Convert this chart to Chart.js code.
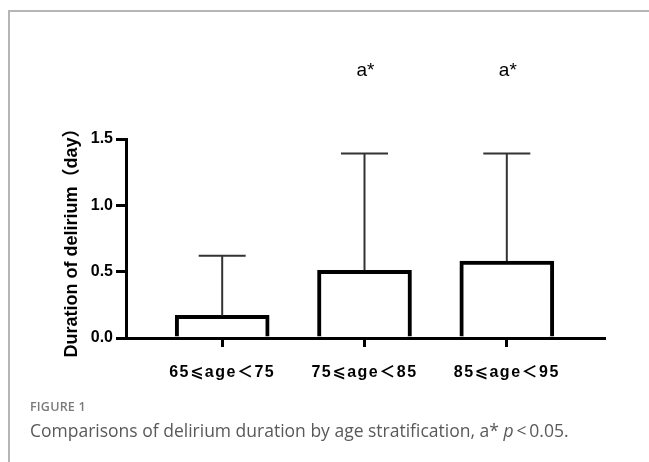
<!DOCTYPE html>
<html>
<head>
<meta charset="utf-8">
<script src="https://cdn.jsdelivr.net/npm/chart.js@4.4.1/dist/chart.umd.min.js"></script>
<style>
  html, body { margin: 0; padding: 0; background: #fff; }
  #wrap { position: relative; width: 649px; height: 462px; overflow: hidden; background: #fff; }
  #frame { position: absolute; left: 8px; top: 10px; width: 700px; height: 500px;
           border-top: 2px solid #b5b5b5; border-left: 2px solid #b5b5b5; }
  #c { position: absolute; left: 0; top: 0; }
  #fig { position: absolute; left: 30px; top: 398px; font-family: "Open Sans", "Noto Sans", sans-serif;
         font-size: 12.5px; font-weight: 600; color: #7a7a7a; letter-spacing: 0.2px; }
  #cap { position: absolute; left: 30px; top: 418px; font-family: "Open Sans", "Noto Sans", sans-serif;
         font-size: 17.5px; color: #595959; font-weight: 400; }
</style>
</head>
<body>
<div id="wrap">
  <div id="frame"></div>
  <canvas id="c" width="649" height="400"></canvas>
  <div id="fig">FIGURE 1</div>
  <div id="cap">Comparisons of delirium duration by age stratification, a* <i>p</i>&thinsp;&lt;&thinsp;0.05.</div>
</div>
<script>
// ---- data ----
const categories = ['65⩽age＜75', '75⩽age＜85', '85⩽age＜95'];
const positions = [1, 2, 3];
const means = [0.17, 0.51, 0.58];
const sdUpper = [0.62, 1.39, 1.39];
const sigLabels = ['', 'a*', 'a*'];
const yTicks = [0, 0.5, 1.0, 1.5];
const yTitle = 'Duration of delirium（day）';

const tickFont = { family: '"Liberation Sans", Arial, "DejaVu Sans", "Noto Sans CJK SC", sans-serif', size: 16, weight: 'bold' };

const errorBarPlugin = {
  id: 'errorBars',
  afterDatasetsDraw(chart) {
    const { ctx, scales: { x, y } } = chart;
    ctx.save();
    ctx.strokeStyle = '#333';
    ctx.lineWidth = 2;
    positions.forEach((p, i) => {
      const px = x.getPixelForValue(p);
      const top = y.getPixelForValue(sdUpper[i]);
      const base = y.getPixelForValue(means[i]);
      const half = 23.5;
      ctx.beginPath();
      ctx.moveTo(px, base);
      ctx.lineTo(px, top);
      ctx.moveTo(px - half, top);
      ctx.lineTo(px + half, top);
      ctx.stroke();
    });
    ctx.fillStyle = '#000';
    ctx.font = '19px "Liberation Sans", Arial, sans-serif';
    ctx.textAlign = 'center';
    ctx.textBaseline = 'middle';
    positions.forEach((p, i) => {
      if (sigLabels[i]) ctx.fillText(sigLabels[i], x.getPixelForValue(p) + 1, 71);
    });
    ctx.restore();
  }
};

function spacedLabels(scale) {
  if (scale._spacedPatched) return;
  scale._spacedPatched = true;
  const orig = scale.drawLabels;
  scale.drawLabels = function (ca) {
    const ctx = this.ctx;
    ctx.save();
    ctx.letterSpacing = '1.5px';
    orig.call(this, ca);
    ctx.restore();
  };
}

new Chart(document.getElementById('c'), {
  type: 'bar',
  data: {
    datasets: [{
      data: positions.map((p, i) => ({ x: p, y: means[i] })),
      backgroundColor: '#fff',
      borderColor: '#000',
      borderWidth: 4,
      borderSkipped: 'bottom',
      barThickness: 94
    }]
  },
  options: {
    responsive: false,
    animation: false,
    devicePixelRatio: 1,
    layout: { padding: { top: 139, right: 45, left: 0, bottom: 0 } },
    plugins: { legend: { display: false }, tooltip: { enabled: false } },
    scales: {
      x: {
        type: 'linear',
        offset: false,
        min: 0.324,
        max: 3.683,
        afterBuildTicks: s => { s.ticks = positions.map(v => ({ value: v })); },
        afterFit: s => { s.height = 62; spacedLabels(s); },
        grid: { display: true, drawOnChartArea: false, drawTicks: true, tickLength: 9, lineWidth: 3, color: '#000', offset: false },
        border: { display: true, width: 3, color: '#000' },
        ticks: {
          color: '#000', font: tickFont, padding: 16,
          maxRotation: 0, autoSkip: false,
          callback: v => { const i = positions.indexOf(v); return i >= 0 ? categories[i] : ''; }
        }
      },
      y: {
        min: 0, max: 1.5,
        afterBuildTicks: s => { s.ticks = yTicks.map(v => ({ value: v })); },
        afterFit: s => { s.width = 126; },
        grid: { display: true, drawOnChartArea: false, drawTicks: true, tickLength: 10, lineWidth: 3, color: '#000' },
        border: { display: true, width: 3, color: '#000' },
        ticks: { color: '#000', font: tickFont, padding: 3, callback: v => v.toFixed(1) },
        title: { display: true, text: yTitle, color: '#000',
                 font: { family: '"Liberation Sans", Arial, "Noto Sans CJK SC", sans-serif', size: 18, weight: 'bold' },
                 padding: { top: 61, bottom: 0 } }
      }
    }
  },
  plugins: [errorBarPlugin]
});
</script>
</body>
</html>
